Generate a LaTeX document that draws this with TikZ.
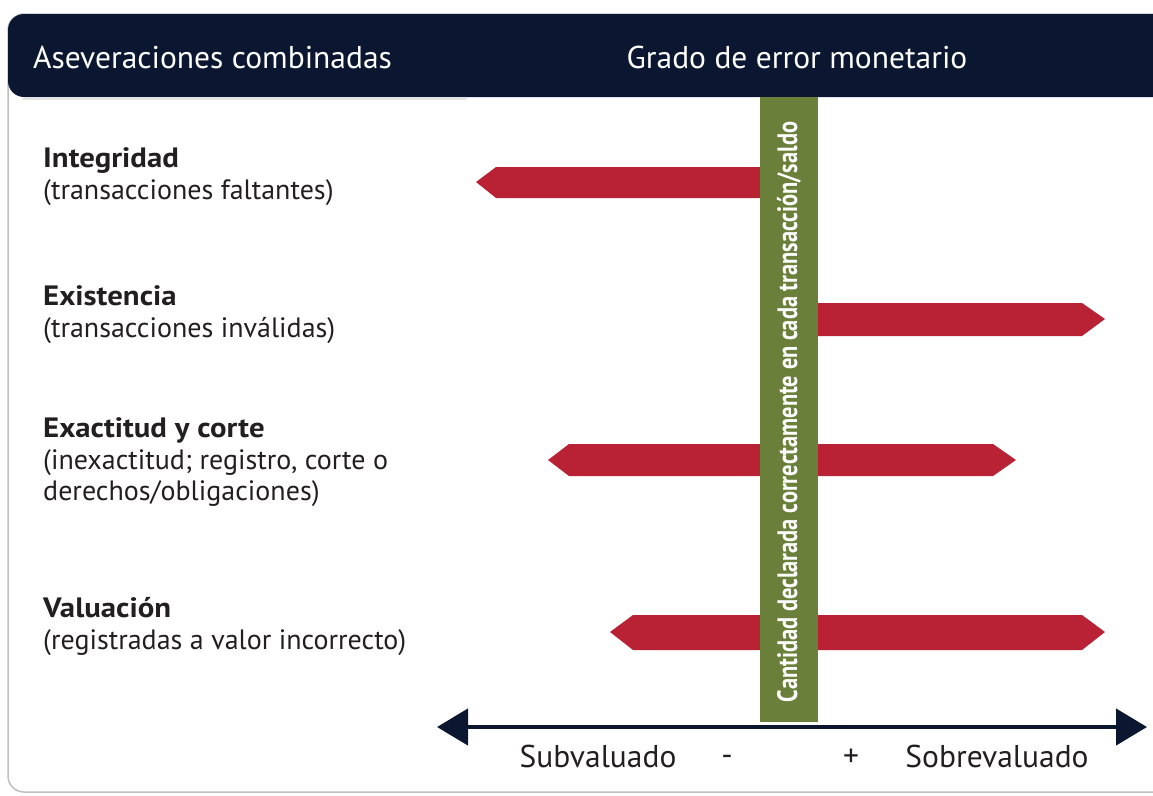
\documentclass[tikz,border=0pt]{standalone}
\usepackage{fontspec}
\setmainfont{PT Sans}
\newfontfamily\narrowfont[FakeStretch=0.8]{PT Sans}
\newfontfamily\labelbold[FakeStretch=1.1]{PT Sans}
\usetikzlibrary{arrows.meta}

\definecolor{navy}{RGB}{11,23,49}
\definecolor{errred}{RGB}{185,33,52}
\definecolor{okgreen}{RGB}{106,128,58}
\definecolor{ink}{RGB}{35,31,32}

\begin{document}
\begin{tikzpicture}[x=1pt,y=-1pt,
  label/.style={anchor=north west, align=left, inner sep=0pt, text=ink, font=\fontsize{28}{31.5}\selectfont},
  head/.style={text=white, inner sep=0pt, font=\fontsize{31.5}{34}\selectfont},
  axislabel/.style={text=ink, inner sep=0pt, font=\fontsize{31.5}{34}\selectfont}]
  \useasboundingbox (0,0) rectangle (1153,795);
  % frame and header
  \draw[black!25, line width=1.5pt, rounded corners=16pt] (8,14) rectangle (1175,792);
  \fill[navy, rounded corners=16pt] (8,14) rectangle (1175,97);
  \draw[black!10, line width=2pt] (22,99) -- (467,99);
  \node[head, anchor=west] (hleft) at (33,57) {Aseveraciones combinadas};
  \node[head] (hright) at (797,57) {Grado de error monetario};

  % error bars
  \fill[errred] (476,182) -- (496,167) -- (789,167) -- (789,198) -- (496,198) -- cycle;
  \fill[errred] (1105,319) -- (1082,303) -- (789,303) -- (789,336) -- (1082,336) -- cycle;
  \fill[errred] (548,460) -- (569,444) -- (993,444) -- (1016,460) -- (993,476) -- (569,476) -- cycle;
  \fill[errred] (610,632) -- (633,615) -- (1082,615) -- (1105,632) -- (1082,650) -- (633,650) -- cycle;

  % correct amount
  \fill[okgreen] (760,97) rectangle (818,722);
  \node[rotate=90, text=white, inner sep=0pt, font=\narrowfont\bfseries\fontsize{28}{30}\selectfont] (correct) at (789,412)
    {Cantidad declarada correctamente en cada transacción/saldo};

  % assertions
  \node[label] (integ) at (43,147.5) {{\labelbold\bfseries Integridad}\\(transacciones faltantes)};
  \node[label] (exist) at (43,285.5) {{\labelbold\bfseries Existencia}\\(transacciones inválidas)};
  \node[label] (exact) at (43,417.5) {{\labelbold\bfseries Exactitud y corte}\\(inexactitud; registro, corte o\\derechos/obligaciones)};
  \node[label] (valua) at (43,597.5) {{\labelbold\bfseries Valuación}\\(registradas a valor incorrecto)};

  % axis
  \coordinate (under) at (437,727);
  \coordinate (over) at (1147,727);
  \draw[navy, line width=4.5pt, {Triangle[length=31pt,width=36pt]}-{Triangle[length=31pt,width=36pt]}] (under) -- (over);
  \node[axislabel] (sub) at (598,756) {Subvaluado};
  \node[axislabel] (minus) at (727,760) {-};
  \node[axislabel] (plus) at (851,758) {+};
  \node[axislabel] (sob) at (997,756) {Sobrevaluado};
\end{tikzpicture}
\end{document}
